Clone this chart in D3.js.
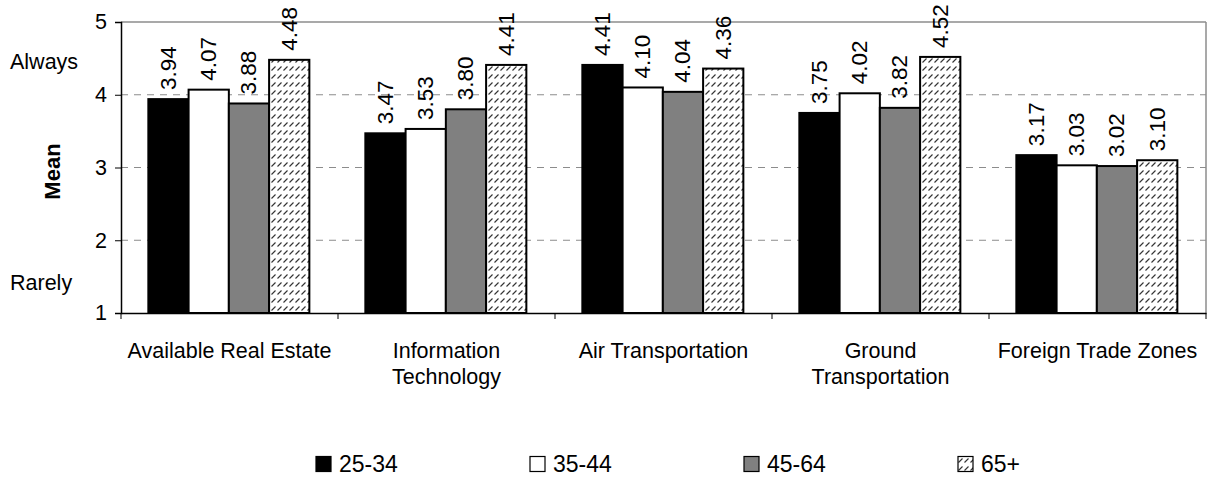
<!DOCTYPE html>
<html>
<head>
<meta charset="utf-8">
<script src="https://cdn.jsdelivr.net/npm/d3@7/dist/d3.min.js"></script>
<style>
  html, body { margin: 0; padding: 0; background: #fff; }
  svg { display: block; font-family: "Liberation Sans", Arial, sans-serif; }
</style>
</head>
<body>
<svg id="chart" width="1208" height="478"></svg>
<script>
// ---- data ----
const categories = [["Available Real Estate"], ["Information", "Technology"], ["Air Transportation"], ["Ground", "Transportation"], ["Foreign Trade Zones"]];
const seriesNames = ["25-34", "35-44", "45-64", "65+"];
const age25_34 = [3.94, 3.47, 4.41, 3.75, 3.17];
const age35_44 = [4.07, 3.53, 4.10, 4.02, 3.03];
const age45_64 = [3.88, 3.80, 4.04, 3.82, 3.02];
const age65plus = [4.48, 4.41, 4.36, 4.52, 3.10];
const yTicks = [1, 2, 3, 4, 5];
const gridValues = [2, 3, 4];
const scaleNotes = [{ label: "Always", value: 4.45 }, { label: "Rarely", value: 1.41 }];
const yTitle = "Mean";

const seriesValues = [age25_34, age35_44, age45_64, age65plus];
const fills = ["#000000", "#ffffff", "#808080", "url(#hatch)"];

// ---- layout ----
const svg = d3.select("#chart");
const plot = { left: 121, right: 1206, top: 22, bottom: 313 };

const defs = svg.append("defs");
const pat = defs.append("pattern").attr("id", "hatch").attr("patternUnits", "userSpaceOnUse")
  .attr("width", 6).attr("height", 8);
pat.append("rect").attr("width", 6).attr("height", 8).attr("fill", "#fff");
pat.append("line").attr("x1", 0.5).attr("y1", 6.5).attr("x2", 4.5).attr("y2", 2.5)
  .attr("stroke", "#333").attr("stroke-width", 1.1);

const catKeys = categories.map(c => c.join(" "));
const x0 = d3.scaleBand().domain(catKeys).range([plot.left, plot.right]).padding(0);
const bw = x0.bandwidth();
const x1 = d3.scaleBand().domain(seriesNames).range([bw * 0.126, bw * 0.868]).padding(0);
const y = d3.scaleLinear().domain([1, 5]).range([plot.bottom, plot.top]);

// gridlines
svg.append("g").selectAll("line").data(gridValues).join("line")
  .attr("x1", plot.left).attr("x2", plot.right)
  .attr("y1", d => y(d)).attr("y2", d => y(d))
  .attr("stroke", "#8c8c8c").attr("stroke-width", 1).attr("stroke-dasharray", "7,6");

// top and right border
svg.append("line").attr("x1", plot.left).attr("x2", plot.right).attr("y1", plot.top).attr("y2", plot.top)
  .attr("stroke", "#8c8c8c").attr("stroke-width", 1.5);
svg.append("line").attr("x1", plot.right).attr("x2", plot.right).attr("y1", plot.top).attr("y2", plot.bottom)
  .attr("stroke", "#8c8c8c").attr("stroke-width", 1.5);

// bars
const groups = svg.append("g").selectAll("g").data(catKeys).join("g")
  .attr("transform", d => `translate(${x0(d)},0)`);
groups.each(function (cat, ci) {
  const g = d3.select(this);
  seriesNames.forEach((s, si) => {
    const v = seriesValues[si][ci];
    g.append("rect")
      .attr("x", x1(s)).attr("width", x1.bandwidth())
      .attr("y", y(v)).attr("height", y(1) - y(v))
      .attr("fill", fills[si]).attr("stroke", "#000").attr("stroke-width", 2);
    g.append("text")
      .attr("transform", `translate(${x1(s) + x1.bandwidth() / 2},${y(v) - 9}) rotate(-90)`)
      .attr("text-anchor", "start").attr("dominant-baseline", "central")
      .attr("font-size", 22.5).attr("fill", "#000")
      .text(v.toFixed(2));
  });
});

// y axis
const yAxis = d3.axisLeft(y).tickValues(yTicks).tickSize(6).tickPadding(8).tickFormat(d3.format("d"));
const ya = svg.append("g").attr("transform", `translate(${plot.left},0)`).call(yAxis);
ya.select(".domain").attr("stroke", "#000").attr("stroke-width", 1.5);
ya.selectAll(".tick line").attr("stroke", "#000");
ya.selectAll(".tick text").attr("font-size", 21.5).attr("font-family", "Liberation Sans, Arial, sans-serif").attr("fill", "#000");

// x axis
const xAxis = d3.axisBottom(x0).tickSize(0).tickFormat("");
const xa = svg.append("g").attr("transform", `translate(0,${plot.bottom})`).call(xAxis);
xa.select(".domain").attr("stroke", "#000").attr("stroke-width", 1.5);
xa.selectAll(".tick").remove();
const boundaries = catKeys.map(k => x0(k)).concat([plot.right]);
xa.selectAll(".bnd").data(boundaries).join("line").attr("class", "bnd")
  .attr("x1", d => d).attr("x2", d => d).attr("y1", 0).attr("y2", 6)
  .attr("stroke", "#000").attr("stroke-width", 1);

// category labels
categories.forEach((lines, i) => {
  const t = svg.append("text").attr("text-anchor", "middle").attr("font-size", 21.5).attr("fill", "#000")
    .attr("x", x0(catKeys[i]) + bw / 2).attr("y", 358);
  lines.forEach((ln, j) => t.append("tspan").attr("x", x0(catKeys[i]) + bw / 2).attr("dy", j === 0 ? 0 : 26).text(ln));
});

// y title
svg.append("text").attr("transform", `translate(52,${(plot.top + plot.bottom) / 2 + 4}) rotate(-90)`)
  .attr("text-anchor", "middle").attr("dominant-baseline", "central")
  .attr("font-size", 22).attr("font-weight", "bold").attr("fill", "#000").text(yTitle);

// scale notes
svg.append("g").selectAll("text").data(scaleNotes).join("text")
  .attr("x", 10).attr("y", d => y(d.value)).attr("dominant-baseline", "central")
  .attr("font-size", 21.5).attr("fill", "#000").text(d => d.label);

// legend
const legend = svg.append("g").attr("transform", "translate(316,464)");
seriesNames.forEach((s, i) => {
  const g = legend.append("g").attr("transform", `translate(${i * 214},0)`);
  g.append("rect").attr("x", 0).attr("y", -7.5).attr("width", 15).attr("height", 15)
    .attr("fill", fills[i]).attr("stroke", "#000").attr("stroke-width", 1.2);
  g.append("text").attr("x", 23).attr("y", 0).attr("dominant-baseline", "central")
    .attr("font-size", 23).attr("fill", "#000").text(s);
});
</script>
</body>
</html>
